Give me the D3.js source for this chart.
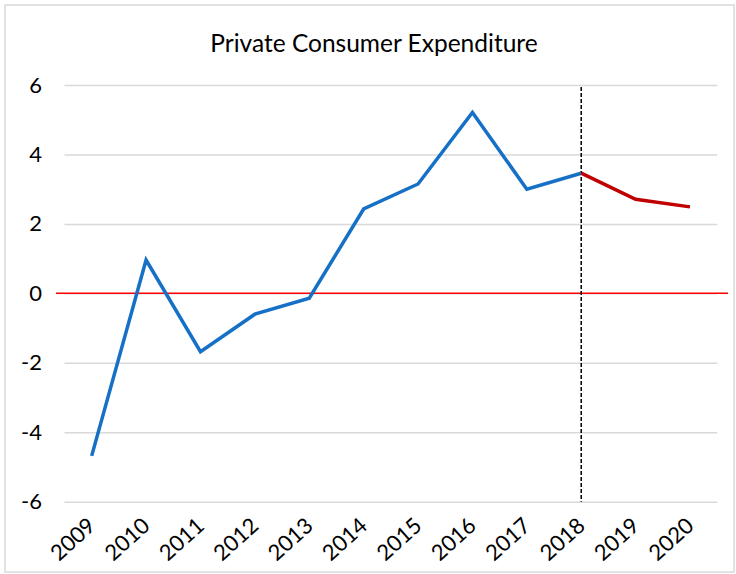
<!DOCTYPE html>
<html>
<head>
<meta charset="utf-8">
<script src="https://cdn.jsdelivr.net/npm/d3@7"></script>
<style>
  body { margin: 0; background: #fff; }
  svg { display: block; }
</style>
</head>
<body>
<svg id="chart" width="736" height="574"></svg>
<script>
// data
var years = ["2009", "2010", "2011", "2012", "2013", "2014", "2015", "2016", "2017", "2018", "2019", "2020"];
var actual = [-4.68, 0.96, -1.68, -0.6, -0.14, 2.43, 3.15, 5.21, 3.0, 3.46];
var forecast = [3.46, 2.71, 2.49];
var forecastYears = ["2018", "2019", "2020"];
var yTicks = [-6, -4, -2, 0, 2, 4, 6];
var splitYear = "2018";

var svg = d3.select("#chart");
var font = "Lato, 'Open Sans', sans-serif";

var plotLeft = 64.5, plotRight = 717.2, plotTop = 85, plotBottom = 501.7;

// outer frame
svg.append("rect")
    .attr("x", 5).attr("y", 5)
    .attr("width", 729).attr("height", 567)
    .attr("fill", "#fff")
    .attr("stroke", "#d9d9d9")
    .attr("stroke-width", 1.5);

var xScale = d3.scaleBand().domain(years).range([plotLeft, plotRight]).padding(0);
var yScale = d3.scaleLinear().domain([-6, 6]).range([plotBottom, plotTop]);
var cx = function(d) { return xScale(d) + xScale.bandwidth() / 2; };

// gridlines
svg.append("g")
    .attr("class", "grid")
    .attr("transform", "translate(" + plotLeft + ",0)")
    .call(d3.axisLeft(yScale).tickValues(yTicks).tickSize(-(plotRight - plotLeft)).tickFormat(""))
    .call(function(g) { g.select(".domain").remove(); })
    .selectAll("line")
    .attr("stroke", "#d9d9d9")
    .attr("stroke-width", 1.5);

// y labels (plain hyphen like excel)
var yAxis = svg.append("g")
    .attr("transform", "translate(" + 42 + ",0)")
    .call(d3.axisLeft(yScale).tickValues(yTicks).tickSize(0).tickPadding(0)
        .tickFormat(function(d) { return String(d); }));
yAxis.select(".domain").remove();
yAxis.selectAll("text")
    .attr("font-family", font)
    .attr("font-size", "22px")
    .attr("fill", "#000")
    .attr("text-anchor", "end");

// x labels
var xAxis = svg.append("g")
    .attr("transform", "translate(0," + 522 + ")")
    .call(d3.axisBottom(xScale).tickSize(0).tickPadding(0));
xAxis.select(".domain").remove();
xAxis.selectAll("text")
    .attr("font-family", font)
    .attr("font-size", "22px")
    .attr("fill", "#000")
    .attr("text-anchor", "end")
    .attr("dy", "0.35em")
    .attr("transform", "translate(0,0) rotate(-42)");

// zero line
svg.append("line")
    .attr("x1", 56).attr("x2", 728)
    .attr("y1", yScale(0)).attr("y2", yScale(0))
    .attr("stroke", "#ff0000")
    .attr("stroke-width", 1.5);

// split marker
svg.append("line")
    .attr("x1", cx(splitYear)).attr("x2", cx(splitYear))
    .attr("y1", 87).attr("y2", plotBottom)
    .attr("stroke", "#000")
    .attr("stroke-width", 1.5)
    .attr("stroke-dasharray", "4,2");

var line = d3.line()
    .x(function(d) { return cx(d.year); })
    .y(function(d) { return yScale(d.value); });

var actualData = actual.map(function(v, i) { return { year: years[i], value: v }; });
var forecastData = forecast.map(function(v, i) { return { year: forecastYears[i], value: v }; });

svg.append("path")
    .datum(actualData)
    .attr("fill", "none")
    .attr("stroke", "#1570c6")
    .attr("stroke-width", 3.5)
    .attr("d", line);

svg.append("path")
    .datum(forecastData)
    .attr("fill", "none")
    .attr("stroke", "#c00000")
    .attr("stroke-width", 3.5)
    .attr("d", line);

// title
svg.append("text")
    .attr("x", 374)
    .attr("y", 52)
    .attr("text-anchor", "middle")
    .attr("font-family", font)
    .attr("font-size", "24.5px")
    .attr("fill", "#000")
    .text("Private Consumer Expenditure");
</script>
</body>
</html>
